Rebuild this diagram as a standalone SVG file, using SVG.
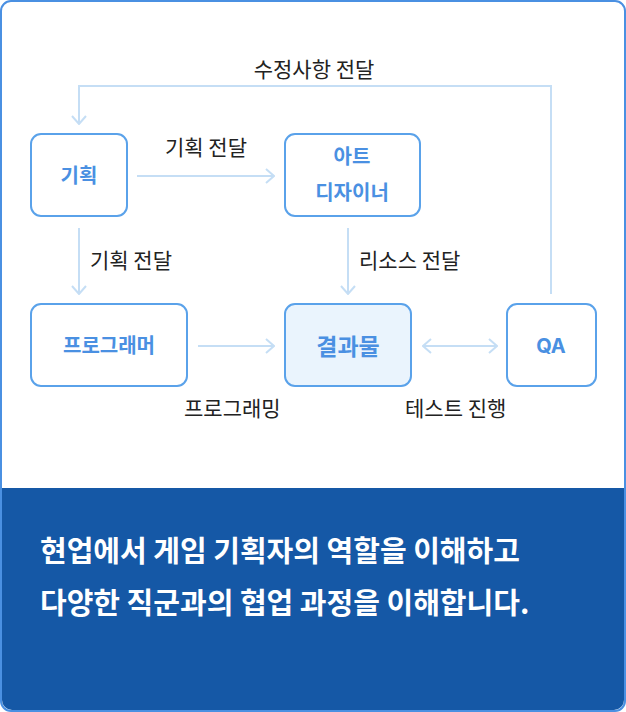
<svg xmlns="http://www.w3.org/2000/svg" width="626" height="712" viewBox="0 0 626 712">
<defs>
<style>
.n{fill:#fff;stroke:#5aa2ea;stroke-width:2}
.t{font-family:"Noto Sans CJK KR","Noto Sans",sans-serif;font-size:20px;font-weight:700;fill:#4a90e2;text-anchor:middle}
.l{font-family:"Noto Sans CJK KR","Noto Sans",sans-serif;font-size:21px;fill:#222}
.c{fill:none;stroke:#c5def5;stroke-width:2}
</style>
<marker id="a" viewBox="0 0 10 16" refX="9" refY="8" markerWidth="10" markerHeight="16" markerUnits="userSpaceOnUse" orient="auto-start-reverse"><path d="M1 1L9 8L1 15" fill="none" stroke="#c5def5" stroke-width="2"/></marker>
</defs>
<rect x="1" y="1" width="624" height="710" rx="10" fill="#fff" stroke="#4a90e2" stroke-width="2"/>
<path d="M2 488H624V700a10 10 0 0 1-10 10H12a10 10 0 0 1-10-10Z" fill="#1558a6"/>
<g font-family="'Noto Sans CJK KR','Noto Sans',sans-serif" font-size="29" font-weight="700" fill="#fff">
<text x="40" y="562">현업에서 게임 기획자의 역할을 이해하고</text>
<text x="40" y="614">다양한 직군과의 협업 과정을 이해합니다.</text>
</g>
<g id="connectors">
<path class="c" d="M137 176H274" marker-end="url(#a)"/>
<path class="c" d="M79 228V294" marker-end="url(#a)"/>
<path class="c" d="M348 228V294" marker-end="url(#a)"/>
<path class="c" d="M198 346H274" marker-end="url(#a)"/>
<path class="c" d="M423 346H497" marker-start="url(#a)" marker-end="url(#a)"/>
<path class="c" d="M551 294V86H79V124" marker-end="url(#a)"/>
<text class="l" x="314" y="77" text-anchor="middle">수정사항 전달</text>
<text class="l" x="206" y="155" text-anchor="middle">기획 전달</text>
<text class="l" x="90" y="268">기획 전달</text>
<text class="l" x="359" y="268">리소스 전달</text>
<text class="l" x="184" y="416">프로그래밍</text>
<text class="l" x="405" y="416">테스트 진행</text>
</g>
<g id="plan"><rect class="n" x="31" y="134" width="96" height="82" rx="10"/><text class="t" x="79" y="183">기획</text></g>
<g id="art"><rect class="n" x="285" y="134" width="135" height="82" rx="10"/><text class="t" x="352" y="164">아트</text><text class="t" x="352" y="200">디자이너</text></g>
<g id="programmer"><rect class="n" x="31" y="304" width="156" height="82" rx="10"/><text class="t" x="109" y="353">프로그래머</text></g>
<g id="result"><rect class="n" x="285" y="304" width="126" height="82" rx="10" style="fill:#eaf4fd"/><text class="t" x="348" y="355" style="font-size:23px">결과물</text></g>
<g id="qa"><rect class="n" x="507" y="304" width="89" height="82" rx="10"/><text class="t" x="551" y="353" style="font-family:Inter,'Noto Sans',sans-serif;font-size:20px">QA</text></g>
</svg>
